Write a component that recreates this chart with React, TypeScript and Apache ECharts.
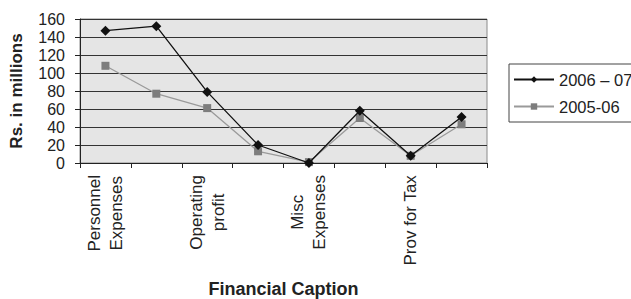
import React, { useEffect, useRef } from "react";
import * as echarts from "echarts";

const categories = [
  "Personnel Expenses",
  "Other Expenses",
  "Operating profit",
  "Interest",
  "Misc Expenses",
  "Profit before Tax",
  "Prov for Tax",
  "Net Profit",
];
const tickLabels = [
  "Personnel\nExpenses",
  "Other\nExpenses",
  "Operating\nprofit",
  "Interest",
  "Misc\nExpenses",
  "Profit\nbefore Tax",
  "Prov for Tax",
  "Net Profit",
];
const series2006 = [147, 152, 79, 20, 0, 58, 8, 51];
const series2005 = [108, 77, 61, 13, 1, 50, 8, 43];
const seriesNames = ["2006 – 07", "2005-06"];
const yTicks = { min: 0, max: 160, interval: 20 };

const FONT = "'Liberation Sans', Arial, Helvetica, sans-serif";

export default function App() {
  const ref = useRef<HTMLDivElement>(null);
  useEffect(() => {
    if (!ref.current) return;
    const chart = echarts.init(ref.current, undefined, { renderer: "svg" });
    chart.setOption({
      animation: false,
      backgroundColor: "#ffffff",
      textStyle: { fontFamily: FONT },
      grid: {
        left: 79,
        right: 144,
        top: 19,
        bottom: 134,
        show: true,
        backgroundColor: "#e5e5e5",
        borderColor: "#8a8a8a",
        borderWidth: 1,
      },
      legend: {
        left: 509,
        top: 64,
        orient: "vertical",
        padding: [7, 6, 7, 4],
        itemGap: 10,
        itemWidth: 40,
        itemHeight: 8,
        borderColor: "#444",
        borderWidth: 1,
        textStyle: { fontFamily: FONT, fontSize: 16.5, color: "#222" },
        data: seriesNames,
      },
      xAxis: {
        type: "category",
        data: categories,
        boundaryGap: true,
        name: "Financial Caption",
        nameLocation: "middle",
        nameGap: 117,
        nameTextStyle: {
          fontFamily: FONT,
          fontSize: 18,
          fontWeight: "bold",
          color: "#222",
          verticalAlign: "top",
        },
        axisLine: { show: true, lineStyle: { color: "#222", width: 1 } },
        axisTick: {
          show: true,
          interval: 0,
          length: 5,
          inside: false,
          lineStyle: { color: "#222" },
        },
        axisLabel: {
          interval: 1,
          rotate: 90,
          margin: 12,
          fontFamily: FONT,
          fontSize: 17,
          color: "#222",
          lineHeight: 22,
          formatter: (value: string) => {
            const idx = categories.indexOf(value);
            const text = idx >= 0 ? tickLabels[idx] : value;
            return text
              .split("\n")
              .map((l) => "{c|" + l + "}")
              .join("\n");
          },
          rich: {
            c: {
              align: "center",
              fontFamily: FONT,
              fontSize: 17,
              color: "#222",
              lineHeight: 22,
            },
          },
        },
        splitLine: { show: false },
      },
      yAxis: {
        type: "value",
        min: yTicks.min,
        max: yTicks.max,
        interval: yTicks.interval,
        name: "Rs. in millions",
        nameLocation: "middle",
        nameGap: 55,
        nameTextStyle: {
          fontFamily: FONT,
          fontSize: 17,
          fontWeight: "bold",
          color: "#222",
        },
        axisLine: { show: true, lineStyle: { color: "#222", width: 1 } },
        axisTick: {
          show: true,
          length: 5,
          inside: false,
          lineStyle: { color: "#222" },
        },
        axisLabel: {
          margin: 15,
          fontFamily: FONT,
          fontSize: 16,
          color: "#222",
        },
        splitLine: { show: true, lineStyle: { color: "#333", width: 1 } },
      },
      series: [
        {
          name: seriesNames[0],
          type: "line",
          data: series2006,
          symbol: "diamond",
          symbolSize: 10,
          itemStyle: { color: "#111" },
          lineStyle: { color: "#111", width: 1.3 },
          z: 3,
        },
        {
          name: seriesNames[1],
          type: "line",
          data: series2005,
          symbol: "rect",
          symbolSize: 8,
          itemStyle: { color: "#7d7d7d" },
          lineStyle: { color: "#9a9a9a", width: 1.3 },
          z: 2,
        },
      ],
    });
    return () => chart.dispose();
  }, []);
  return (
    <div
      ref={ref}
      style={{ position: "fixed", left: 0, top: 0, width: 631, height: 299 }}
    />
  );
}
